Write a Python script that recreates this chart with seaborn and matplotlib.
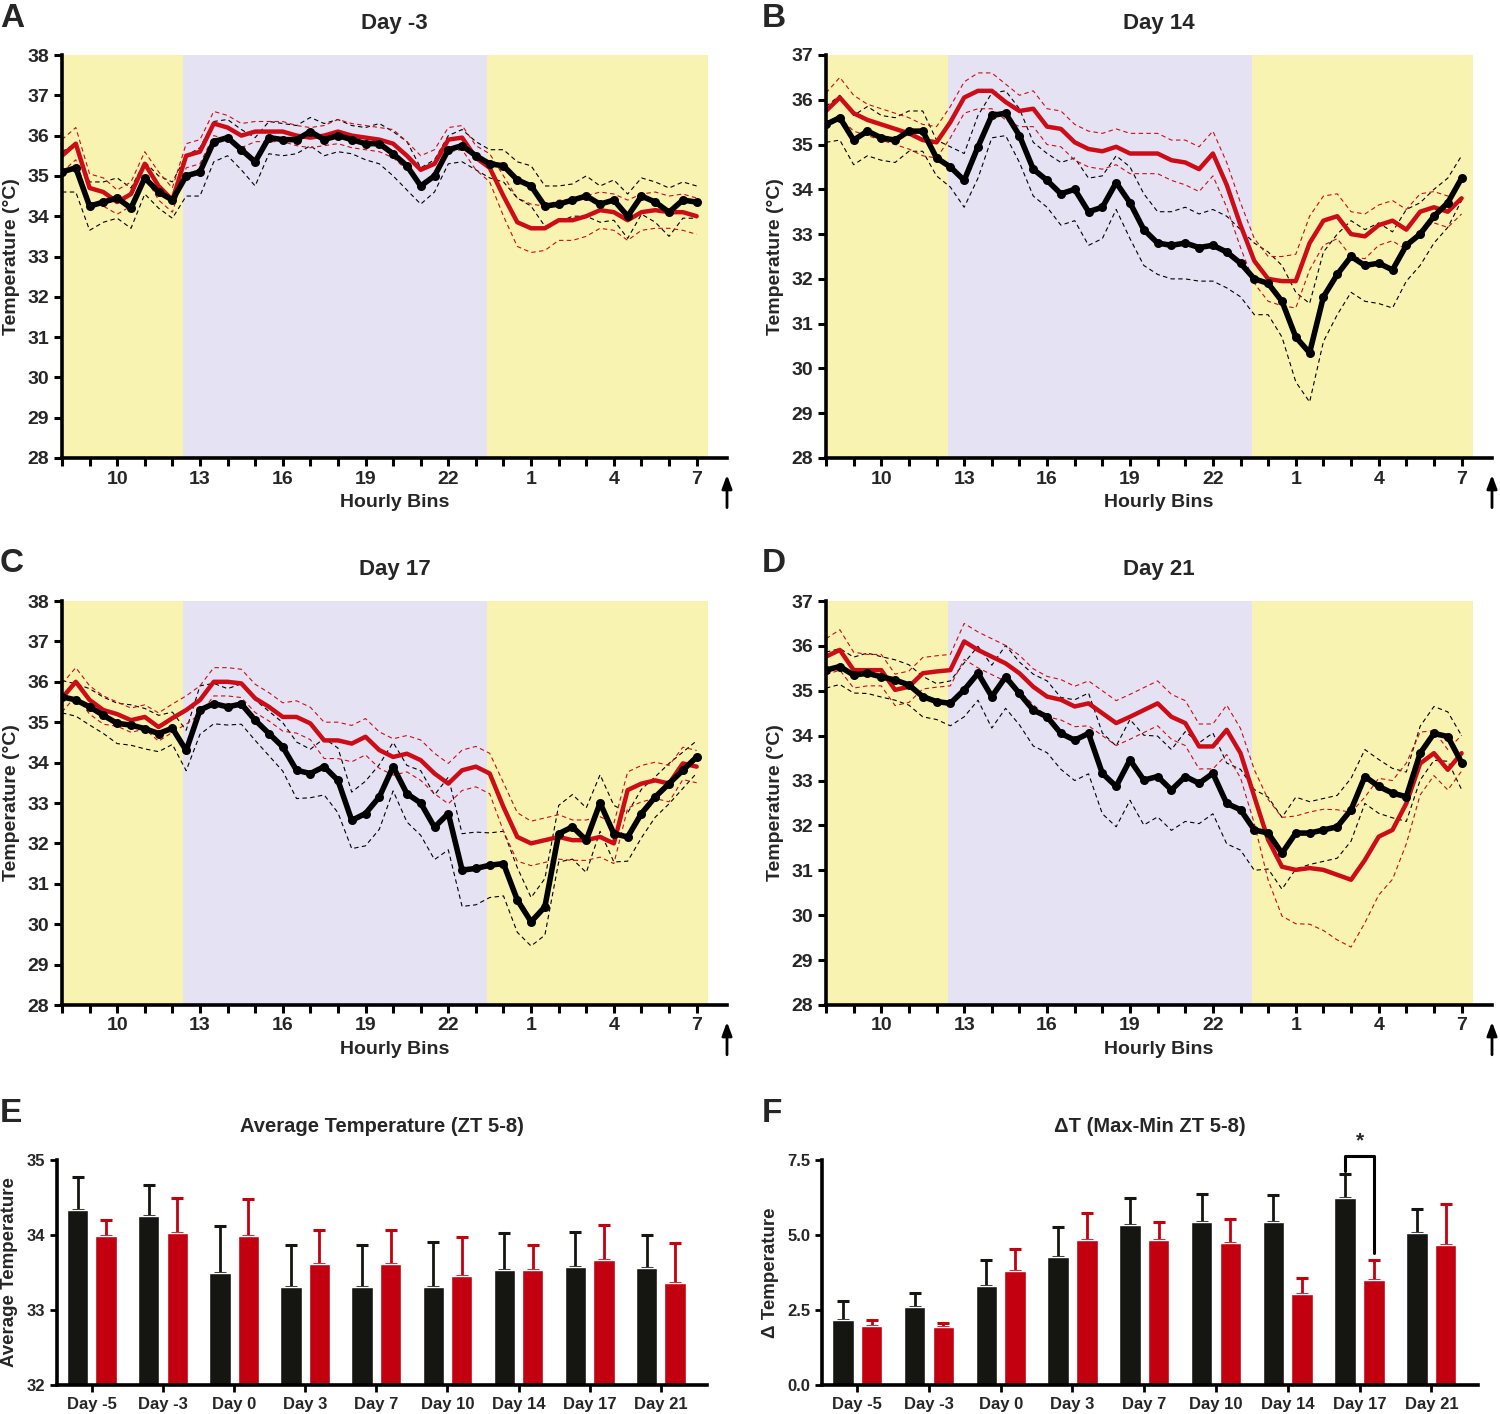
import numpy as np
import pandas as pd
import seaborn as sns
import matplotlib.pyplot as plt

# half-hour bins, ZT clock starting at 08:00 (values past 24 are next day)
hours = np.arange(8, 31.5, 0.5)
LIGHTS_OFF, LIGHTS_ON, END = 12.4, 23.4, 31.4
hour_ticks = [10, 13, 16, 19, 22, 25, 28, 31]
hour_labels = ["10", "13", "16", "19", "22", "1", "4", "7"]

# Panel A - Day -3
a_black = [35.1, 35.2, 34.25, 34.35, 34.45, 34.2, 34.95, 34.6, 34.4,
           35.0, 35.1, 35.85, 35.95, 35.65, 35.35, 35.95, 35.9, 35.9, 36.1, 35.9, 36.0, 35.9,
           35.8, 35.8, 35.55, 35.25, 34.75, 35.0, 35.65, 35.75, 35.5, 35.3,
           35.25, 34.9, 34.75, 34.25, 34.3, 34.4, 34.5, 34.3, 34.4, 34.0, 34.5, 34.35, 34.1, 34.4, 34.35]
a_black_sem = [0.5, 0.6, 0.6, 0.5, 0.5, 0.5, 0.4, 0.4, 0.45,
               0.5, 0.6, 0.5, 0.45, 0.5, 0.6, 0.4, 0.4, 0.35, 0.35, 0.4, 0.4, 0.35,
               0.4, 0.5, 0.55, 0.6, 0.45, 0.4, 0.35, 0.4, 0.35, 0.35,
               0.4, 0.45, 0.5, 0.5, 0.45, 0.4, 0.5, 0.45, 0.5, 0.55, 0.45, 0.5, 0.6, 0.45, 0.4]
a_red = [35.5, 35.8, 34.7, 34.6, 34.35, 34.55, 35.3, 34.75, 34.4,
         35.5, 35.6, 36.3, 36.2, 36.0, 36.1, 36.1, 36.1, 36.0, 35.95, 36.0, 36.1, 36.0,
         35.95, 35.9, 35.8, 35.5, 35.15, 35.3, 35.9, 35.95, 35.45, 35.2,
         34.5, 33.85, 33.7, 33.7, 33.9, 33.9, 34.0, 34.15, 34.1, 33.9, 34.1, 34.15, 34.1, 34.1, 34.0]
a_red_sem = [0.4, 0.4, 0.35, 0.35, 0.3, 0.3, 0.3, 0.35, 0.3,
             0.3, 0.3, 0.3, 0.3, 0.3, 0.25, 0.25, 0.25, 0.25, 0.25, 0.25, 0.3, 0.3,
             0.3, 0.3, 0.35, 0.35, 0.35, 0.35, 0.3, 0.3, 0.3, 0.35,
             0.5, 0.6, 0.6, 0.55, 0.5, 0.5, 0.5, 0.45, 0.45, 0.5, 0.45, 0.45, 0.4, 0.45, 0.45]

# Panel B - Day 14
b_black = [35.45, 35.6, 35.1, 35.3, 35.15, 35.1, 35.3, 35.3, 34.7,
           34.5, 34.2, 34.95, 35.65, 35.7, 35.2, 34.45, 34.2, 33.9, 34.0, 33.5, 33.6, 34.15,
           33.7, 33.1, 32.8, 32.75, 32.8, 32.7, 32.75, 32.6, 32.35, 32.0,
           31.9, 31.5, 30.7, 30.35, 31.6, 32.1, 32.5, 32.3, 32.35, 32.2, 32.75, 33.0, 33.4, 33.7, 34.25]
b_black_sem = [0.4, 0.5, 0.55, 0.55, 0.5, 0.5, 0.45, 0.45, 0.4,
               0.45, 0.6, 0.7, 0.5, 0.5, 0.6, 0.6, 0.6, 0.7, 0.7, 0.75, 0.7, 0.6,
               0.8, 0.8, 0.7, 0.75, 0.8, 0.75, 0.8, 0.8, 0.75, 0.8,
               0.7, 0.8, 1.0, 1.1, 1.0, 0.9, 0.8, 0.8, 0.9, 0.85, 0.8, 0.7, 0.6, 0.55, 0.5]
b_red = [35.75, 36.05, 35.7, 35.55, 35.45, 35.35, 35.25, 35.1, 35.05,
         35.5, 36.05, 36.2, 36.2, 35.95, 35.75, 35.8, 35.4, 35.35, 35.05, 34.9, 34.85, 34.95,
         34.8, 34.8, 34.8, 34.65, 34.6, 34.45, 34.8, 34.1, 33.2, 32.4,
         32.0, 31.95, 31.95, 32.8, 33.3, 33.4, 33.0, 32.95, 33.2, 33.3, 33.1, 33.5, 33.6, 33.5, 33.8]
b_red_sem = [0.4, 0.45, 0.4, 0.35, 0.35, 0.35, 0.35, 0.35, 0.35,
             0.35, 0.35, 0.4, 0.4, 0.4, 0.35, 0.4, 0.4, 0.4, 0.4, 0.4, 0.4, 0.4,
             0.45, 0.45, 0.45, 0.45, 0.5, 0.5, 0.5, 0.5, 0.5, 0.5,
             0.5, 0.55, 0.6, 0.6, 0.55, 0.5, 0.5, 0.5, 0.45, 0.45, 0.45, 0.4, 0.35, 0.35, 0.35]

# Panel C - Day 17
c_black = [35.63, 35.55, 35.38, 35.17, 34.97, 34.93, 34.84, 34.72, 34.85,
           34.3, 35.3, 35.46, 35.38, 35.45, 35.05, 34.72, 34.39, 33.81, 33.73, 33.9, 33.56, 32.57,
           32.74, 33.15, 33.9, 33.23, 33.0, 32.4, 32.74, 31.34, 31.38, 31.46,
           31.5, 30.6, 30.06, 30.43, 32.24, 32.41, 32.08, 33.0, 32.24, 32.16, 32.74, 33.15, 33.48, 33.81, 34.14]
c_black_sem = [0.4, 0.4, 0.45, 0.45, 0.5, 0.5, 0.5, 0.45, 0.4,
               0.5, 0.6, 0.5, 0.45, 0.5, 0.5, 0.55, 0.6, 0.7, 0.6, 0.7, 0.8, 0.7,
               0.8, 0.8, 0.6, 0.7, 0.8, 0.8, 0.9, 0.9, 0.9, 0.8,
               0.8, 0.8, 0.6, 0.7, 0.7, 0.8, 0.8, 0.7, 0.7, 0.6, 0.6, 0.5, 0.5, 0.45, 0.4]
c_red = [35.6, 36.0, 35.55, 35.3, 35.2, 35.05, 35.13, 34.88, 35.1,
         35.3, 35.55, 36.0, 36.0, 35.96, 35.59, 35.38, 35.13, 35.13, 34.97, 34.55, 34.55, 34.47,
         34.64, 34.31, 34.14, 34.22, 34.06, 33.73, 33.48, 33.81, 33.9, 33.73,
         32.9, 32.16, 32.0, 32.08, 32.16, 32.08, 32.08, 32.16, 32.0, 33.32, 33.48, 33.56, 33.48, 33.98, 33.9]
c_red_sem = [0.35, 0.35, 0.35, 0.35, 0.3, 0.3, 0.3, 0.35, 0.35,
             0.35, 0.35, 0.35, 0.35, 0.35, 0.35, 0.35, 0.35, 0.4, 0.4, 0.45, 0.45, 0.45,
             0.45, 0.45, 0.45, 0.45, 0.5, 0.5, 0.5, 0.5, 0.5, 0.5,
             0.6, 0.6, 0.55, 0.55, 0.55, 0.5, 0.5, 0.5, 0.5, 0.45, 0.45, 0.45, 0.45, 0.4, 0.4]

# Panel D - Day 21
d_black = [35.46, 35.54, 35.35, 35.39, 35.31, 35.24, 35.13, 34.87, 34.76,
           34.72, 35.02, 35.39, 34.87, 35.31, 34.94, 34.57, 34.42, 34.05, 33.9, 34.05, 33.16, 32.87,
           33.46, 33.01, 33.09, 32.79, 33.09, 32.94, 33.16, 32.49, 32.35, 31.9,
           31.83, 31.38, 31.83, 31.83, 31.9, 31.97, 32.35, 33.09, 32.87, 32.72, 32.64, 33.61, 34.05, 33.98, 33.4]
d_black_sem = [0.4, 0.4, 0.4, 0.45, 0.45, 0.45, 0.45, 0.45, 0.4,
               0.5, 0.6, 0.6, 0.7, 0.7, 0.7, 0.8, 0.8, 0.8, 0.9, 0.9, 0.9, 0.9,
               0.9, 1.0, 0.9, 0.9, 1.0, 0.9, 0.9, 0.9, 0.9, 0.9,
               0.8, 0.8, 0.8, 0.7, 0.7, 0.7, 0.7, 0.6, 0.6, 0.55, 0.55, 0.6, 0.6, 0.55, 0.6]
d_red = [35.76, 35.91, 35.46, 35.46, 35.46, 35.02, 35.09, 35.39, 35.43,
         35.46, 36.1, 35.91, 35.76, 35.61, 35.39, 35.09, 34.87, 34.8, 34.65, 34.72, 34.5, 34.28,
         34.42, 34.57, 34.72, 34.42, 34.28, 33.76, 33.76, 34.13, 33.61, 32.64,
         31.68, 31.08, 31.01, 31.05, 31.01, 30.9, 30.79, 31.23, 31.75, 31.9, 32.49, 33.38, 33.61, 33.24, 33.61]
d_red_sem = [0.4, 0.45, 0.4, 0.35, 0.35, 0.35, 0.35, 0.35, 0.35,
             0.35, 0.4, 0.4, 0.4, 0.4, 0.4, 0.4, 0.45, 0.45, 0.45, 0.5, 0.5, 0.5,
             0.5, 0.5, 0.5, 0.5, 0.5, 0.5, 0.5, 0.55, 0.55, 0.6,
             0.9, 1.1, 1.2, 1.25, 1.35, 1.45, 1.5, 1.4, 1.3, 1.1, 0.9, 0.7, 0.5, 0.45, 0.4]

# Panels E/F - bar summaries
days = ["Day -5", "Day -3", "Day 0", "Day 3", "Day 7", "Day 10", "Day 14", "Day 17", "Day 21"]
avg_black = [34.33, 34.26, 33.49, 33.31, 33.31, 33.31, 33.54, 33.58, 33.56]
avg_black_err = [0.45, 0.41, 0.63, 0.56, 0.56, 0.60, 0.49, 0.46, 0.44]
avg_red = [33.99, 34.03, 33.99, 33.61, 33.61, 33.45, 33.54, 33.67, 33.36]
avg_red_err = [0.21, 0.47, 0.49, 0.46, 0.46, 0.52, 0.33, 0.46, 0.54]
dt_black = [2.17, 2.60, 3.31, 4.27, 5.35, 5.44, 5.43, 6.23, 5.07]
dt_black_err = [0.63, 0.48, 0.87, 1.01, 0.87, 0.94, 0.92, 0.79, 0.81]
dt_red = [1.97, 1.92, 3.80, 4.84, 4.85, 4.72, 3.04, 3.51, 4.66]
dt_red_err = [0.20, 0.15, 0.74, 0.90, 0.57, 0.82, 0.53, 0.65, 1.36]

BLACK = "#151612"
RED_LINE = "#cc0c16"
RED_BAR = "#c2000f"
YELLOW = "#f9f3b2"
LAVENDER = "#e5e3f3"

sns.set_style("ticks")
plt.rcParams["font.family"] = ["Liberation Sans", "DejaVu Sans"]
plt.rcParams["font.weight"] = "bold"
plt.rcParams["axes.labelweight"] = "bold"
plt.rcParams["axes.titleweight"] = "bold"

W, H = 1500, 1414
fig = plt.figure(figsize=(15, 14.14), dpi=100)


def px_axes(left, top, right, bottom):
    return fig.add_axes([left / W, 1 - bottom / H, (right - left) / W, (bottom - top) / H])


def style_axis(ax):
    sns.despine(ax=ax)
    for side in ["left", "bottom"]:
        ax.spines[side].set_linewidth(2.6)
        ax.spines[side].set_color("black")


def time_panel(ax, title, black, black_sem, red, red_sem, ymax):
    black, black_sem = np.array(black), np.array(black_sem)
    red, red_sem = np.array(red), np.array(red_sem)
    ax.axvspan(8, LIGHTS_OFF, color=YELLOW, lw=0, zorder=0)
    ax.axvspan(LIGHTS_OFF, LIGHTS_ON, color=LAVENDER, lw=0, zorder=0)
    ax.axvspan(LIGHTS_ON, END, color=YELLOW, lw=0, zorder=0)
    for sign in (1, -1):
        sns.lineplot(x=hours, y=black + sign * black_sem, ax=ax, color="black",
                     lw=0.8, linestyle=(0, (4, 3)))
        sns.lineplot(x=hours, y=red + sign * red_sem, ax=ax, color=RED_LINE,
                     lw=0.8, linestyle=(0, (4, 3)))
    sns.lineplot(x=hours, y=red, ax=ax, color=RED_LINE, lw=3.2)
    sns.lineplot(x=hours, y=black, ax=ax, color="black", lw=4.0, marker="o",
                 markersize=6.5, markeredgewidth=0)

    ax.set_xlim(8, 32.1)
    ax.set_ylim(28, ymax)
    ax.set_xticks(hour_ticks)
    ax.set_xticklabels(hour_labels)
    ax.set_xticks(range(8, 32), minor=True)
    ax.set_yticks(range(28, ymax + 1))
    ax.tick_params(axis="both", which="both", direction="out", length=6, width=2.2,
                   labelsize=14, color="black")
    ax.tick_params(axis="x", pad=3)
    ax.set_xlabel("Hourly Bins", fontsize=14, labelpad=5)
    ax.set_ylabel("Temperature (°C)", fontsize=14, labelpad=5)
    ax.set_title(title, fontsize=16, pad=19)
    style_axis(ax)
    ax.annotate("", xy=(1.0, -0.035), xycoords="axes fraction", xytext=(1.0, -0.13),
                arrowprops=dict(arrowstyle="-|>,head_width=0.3,head_length=0.8",
                                color="black", lw=2))


def bar_panel(ax, title, ylabel, black, black_err, red, red_err, ylim, yticks, yticklabels):
    df = pd.DataFrame({
        "day": days * 2,
        "group": ["Vehicle"] * len(days) + ["Treated"] * len(days),
        "value": black + red,
    })
    sns.barplot(data=df, x="day", y="value", hue="group", palette=[BLACK, RED_BAR],
                saturation=1, width=0.8, gap=0.25, errorbar=None, legend=False,
                ax=ax, zorder=2)
    bars = ax.patches
    n = len(days)
    xs_black = [b.get_x() + b.get_width() / 2 for b in bars[:n]]
    xs_red = [b.get_x() + b.get_width() / 2 for b in bars[n:2 * n]]
    ax.errorbar(xs_black, black, yerr=[np.zeros(n), black_err], fmt="none",
                ecolor=BLACK, elinewidth=2, capsize=4, capthick=2.2, zorder=1)
    ax.errorbar(xs_red, red, yerr=[np.zeros(n), red_err], fmt="none",
                ecolor=RED_BAR, elinewidth=2, capsize=4, capthick=2.2, zorder=1)
    ax.set_ylim(*ylim)
    ax.set_xlim(-0.49, 8.65)
    ax.set_yticks(yticks)
    ax.set_yticklabels(yticklabels)
    ax.tick_params(axis="both", direction="out", length=5, width=2, labelsize=12,
                   color="black")
    ax.set_xlabel("")
    ax.set_ylabel(ylabel, fontsize=13.5, labelpad=6)
    ax.set_title(title, fontsize=14.5, pad=20)
    style_axis(ax)
    return xs_black, xs_red


ax_a = px_axes(62, 55, 727, 458)
time_panel(ax_a, "Day -3", a_black, a_black_sem, a_red, a_red_sem, 38)
ax_b = px_axes(826, 55, 1492, 458)
time_panel(ax_b, "Day 14", b_black, b_black_sem, b_red, b_red_sem, 37)
ax_c = px_axes(62, 601, 727, 1005)
time_panel(ax_c, "Day 17", c_black, c_black_sem, c_red, c_red_sem, 38)
ax_d = px_axes(826, 601, 1492, 1005)
time_panel(ax_d, "Day 21", d_black, d_black_sem, d_red, d_red_sem, 37)

ax_e = px_axes(57, 1160, 707, 1385)
bar_panel(ax_e, "Average Temperature (ZT 5-8)", "Average Temperature",
          avg_black, avg_black_err, avg_red, avg_red_err,
          (32, 35), [32, 33, 34, 35], ["32", "33", "34", "35"])
ax_f = px_axes(822, 1160, 1478, 1385)
xb, xr = bar_panel(ax_f, "ΔT (Max-Min ZT 5-8)", "Δ Temperature",
                   dt_black, dt_black_err, dt_red, dt_red_err,
                   (0, 7.5), [0, 2.5, 5.0, 7.5], ["0.0", "2.5", "5.0", "7.5"])

# significance bracket Day 17
i = days.index("Day 17")
top = 7.63
ax_f.plot([xb[i], xb[i], xr[i], xr[i]],
          [dt_black[i] + dt_black_err[i] + 0.12, top, top, dt_red[i] + dt_red_err[i] + 0.25],
          color="black", lw=2.2, clip_on=False, zorder=5)
ax_f.text((xb[i] + xr[i]) / 2, top + 0.2, "*", ha="center", va="bottom", fontsize=15)

for label, x, y in [("A", 0, 3), ("B", 762, 3), ("C", 0, 548), ("D", 762, 548),
                    ("E", 0, 1098), ("F", 762, 1098)]:
    fig.text(x / W, 1 - y / H, label, fontsize=24, fontweight="bold", va="top", ha="left")

fig.savefig("out.png", dpi=100)
